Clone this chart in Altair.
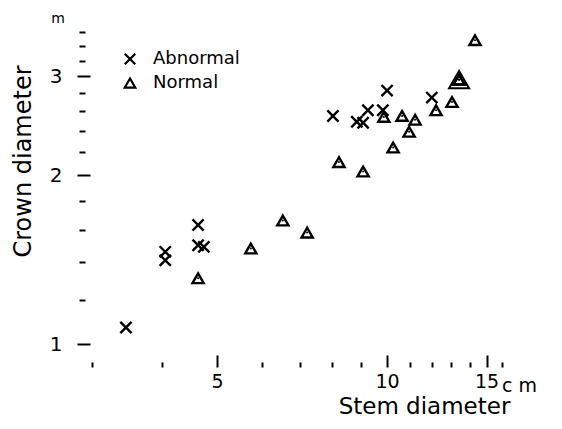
import altair as alt
import pandas as pd

# Data (stem diameter in cm, crown diameter in m)
abn_x = [3.45, 4.05, 4.05, 4.63, 4.63, 4.74, 8.02, 8.84, 9.07, 9.25, 9.83, 10.0, 12.0]
abn_y = [1.07, 1.46, 1.41, 1.63, 1.50, 1.49, 2.55, 2.49, 2.48, 2.61, 2.61, 2.83, 2.75]
nor_x = [4.63, 5.74, 6.54, 7.22, 8.22, 9.07, 9.87, 10.25, 10.63, 10.94, 11.21, 12.21, 13.03, 13.41, 13.41, 14.31]
nor_y = [1.31, 1.48, 1.66, 1.58, 2.11, 2.03, 2.54, 2.24, 2.55, 2.39, 2.51, 2.61, 2.70, 2.96, 2.96, 3.48]
groups = ["Abnormal", "Normal"]

x_major = [5, 10, 15]
x_minor = [3, 4, 6, 7, 8, 9, 11, 12, 13, 14, 16]
y_major = [1, 2, 3]
y_minor = [1.2, 1.4, 1.6, 1.8, 2.2, 2.4, 2.6, 2.8, 3.2, 3.4, 3.6]

df = pd.DataFrame({
    "stem": abn_x + nor_x,
    "crown": abn_y + nor_y,
    "type": [groups[0]] * len(abn_x) + [groups[1]] * len(nor_x),
})

FONT = "DejaVu Sans"
XPATH = "M-1,-1L1,1M-1,1L1,-1"

xs = alt.Scale(type="log", domain=[2.956, 17.19], nice=False, zero=False)
ys = alt.Scale(type="log", domain=[0.956, 3.781], nice=False, zero=False)

x_major_axis = alt.Axis(
    values=x_major, format="d", orient="bottom", domain=False, grid=False,
    tickSize=12, tickWidth=2, tickColor="black",
    labelFont=FONT, labelFontSize=19, labelColor="black", labelPadding=5,
    title="Stem diameter", titleFont=FONT, titleFontSize=23, titleFontWeight="normal",
    titleColor="black", titleX=336, titleY=58, titleAlign="center", titleBaseline="alphabetic",
)
y_major_axis = alt.Axis(
    values=y_major, format="d", orient="left", domain=False, grid=False, offset=-2,
    tickSize=13, tickWidth=2, tickColor="black",
    labelFont=FONT, labelFontSize=20, labelColor="black", labelPadding=15,
    title="Crown diameter", titleFont=FONT, titleFontSize=24, titleFontWeight="normal",
    titleColor="black", titleX=-60, titleY=141, titleAngle=-90, titleAlign="center",
    titleBaseline="alphabetic",
)
x_minor_axis = alt.Axis(values=x_minor, orient="bottom", domain=False, grid=False, offset=7,
                        tickSize=5, tickWidth=2, tickColor="black", labels=False, title=None)
y_minor_axis = alt.Axis(values=y_minor, orient="left", domain=False, grid=False, offset=3,
                        tickSize=6, tickWidth=2, tickColor="black", labels=False, title=None)

base = alt.Chart(df)

points = base.mark_point(filled=False, color="black", strokeWidth=2.4, size=125, opacity=1).encode(
    x=alt.X("stem:Q", scale=xs, axis=x_major_axis),
    y=alt.Y("crown:Q", scale=ys, axis=y_major_axis),
    shape=alt.Shape(
        "type:N",
        scale=alt.Scale(domain=groups, range=[XPATH, "triangle-up"]),
        legend=alt.Legend(
            title=None, orient="none", legendX=33, legendY=30, padding=0,
            labelFont=FONT, labelFontSize=18, labelColor="black", labelOffset=14,
            rowPadding=5, symbolSize=110, symbolStrokeWidth=2.2,
            symbolStrokeColor="black",
        ),
    ),
)

dots = base.transform_filter(alt.datum.type == "Normal").mark_circle(color="black", size=4, opacity=1).encode(
    x=alt.X("stem:Q", scale=xs, axis=None),
    y=alt.Y("crown:Q", scale=ys, axis=None),
)

doubles = base.transform_aggregate(
    n="count()", groupby=["stem", "crown", "type"]
).transform_filter(alt.datum.n > 1).mark_point(
    filled=False, color="black", strokeWidth=2, size=400, shape="triangle-up", opacity=1
).encode(
    x=alt.X("stem:Q", scale=xs, axis=None),
    y=alt.Y("crown:Q", scale=ys, axis=None),
)

minor = base.mark_point(opacity=0).encode(
    x=alt.X("stem:Q", scale=xs, axis=x_minor_axis),
    y=alt.Y("crown:Q", scale=ys, axis=y_minor_axis),
)

unit_m = alt.Chart(alt.Data(values=[{"t": "m"}])).mark_text(
    font=FONT, fontSize=14, color="black", align="center", baseline="alphabetic"
).encode(x=alt.value(-30), y=alt.value(3), text="t:N")

unit_cm = alt.Chart(alt.Data(values=[{"t": "c m"}])).mark_text(
    font=FONT, fontSize=19, color="black", align="left", baseline="alphabetic"
).encode(x=alt.value(414), y=alt.value(372), text="t:N")

chart = alt.layer(points, dots, doubles, minor, unit_m, unit_cm).resolve_axis(
    x="independent", y="independent"
).properties(
    width=432, height=335,
    padding={"left": 80, "top": 12, "right": 34, "bottom": 66},
    autosize=alt.AutoSizeParams(type="none"),
    background="white",
).configure_view(stroke=None)

chart.save("out.html", embed_options={"renderer": "svg", "actions": False})
